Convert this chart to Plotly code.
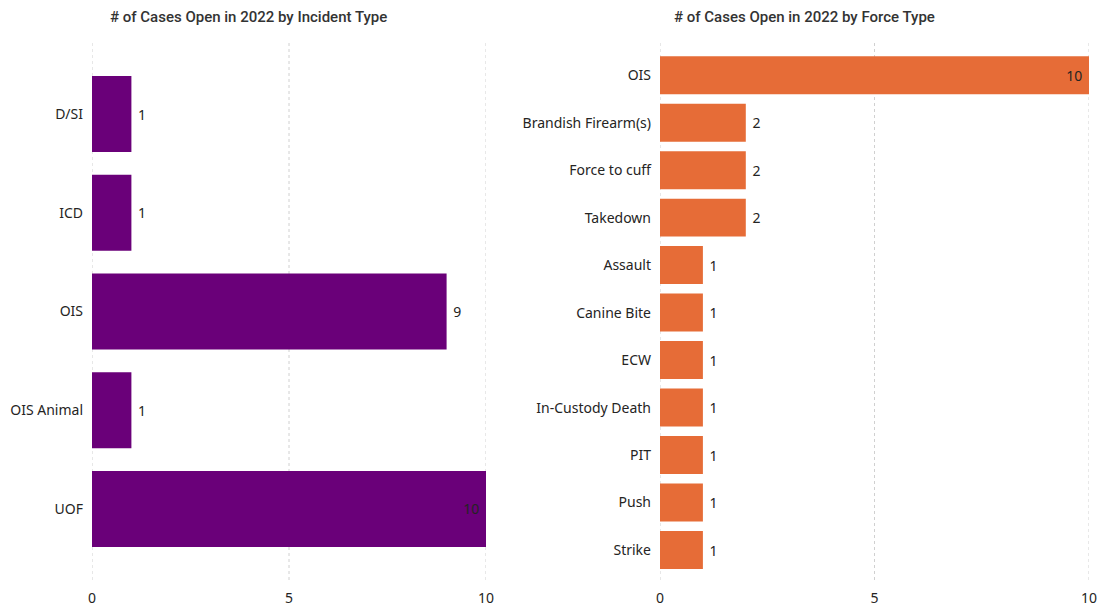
import plotly.graph_objects as go

incident_types = ["D/SI", "ICD", "OIS", "OIS Animal", "UOF"]
incident_counts = [1, 1, 9, 1, 10]

force_types = ["OIS", "Brandish Firearm(s)", "Force to cuff", "Takedown", "Assault",
               "Canine Bite", "ECW", "In-Custody Death", "PIT", "Push", "Strike"]
force_counts = [10, 2, 2, 2, 1, 1, 1, 1, 1, 1, 1]

x_ticks = [0, 5, 10]

title_left = "# of Cases Open in 2022 by Incident Type"
title_right = "# of Cases Open in 2022 by Force Type"

PURPLE = "#6A0079"
ORANGE = "#E66C37"
TICK_FONT = dict(family="Noto Sans", size=14, color="#252423")
LABEL_FONT = dict(family="Noto Sans", size=14, color="#252423")
NB = "\u00a0"


def positions(vals, vmax):
    return ["inside" if v >= vmax else "outside" for v in vals]


def labels(vals, vmax):
    return [f"{v}{NB}" if v >= vmax else f"{NB}{v}" for v in vals]


fig = go.Figure()
fig.add_trace(go.Bar(
    y=incident_types, x=incident_counts, orientation="h",
    marker=dict(color=PURPLE, line=dict(width=0)),
    width=0.77,
    text=labels(incident_counts, 10),
    textposition=positions(incident_counts, 10),
    insidetextanchor="end", textangle=0,
    textfont=LABEL_FONT, insidetextfont=LABEL_FONT, outsidetextfont=LABEL_FONT,
    cliponaxis=False,
    xaxis="x", yaxis="y", showlegend=False,
))
fig.add_trace(go.Bar(
    y=force_types, x=force_counts, orientation="h",
    marker=dict(color=ORANGE, line=dict(width=0)),
    width=0.8,
    text=labels(force_counts, 10),
    textposition=positions(force_counts, 10),
    insidetextanchor="end", textangle=0,
    textfont=LABEL_FONT, insidetextfont=LABEL_FONT, outsidetextfont=LABEL_FONT,
    cliponaxis=False,
    xaxis="x2", yaxis="y2", showlegend=False,
))

W, H = 1101, 611
ybot = 1 - 580 / H
ytop = 1 - 40 / H

xcommon = dict(range=[0, 10], tickvals=x_ticks, showgrid=False, zeroline=False,
               showline=False, ticks="", tickfont=TICK_FONT, automargin=False,
               fixedrange=True, ticklabelstandoff=8)
ycommon = dict(type="category", showgrid=False, zeroline=False,
               showline=False, ticks="", tickfont=TICK_FONT, automargin=False,
               fixedrange=True, ticklabelstandoff=8)

shapes = []
for xr in ("x", "x2"):
    for t in x_ticks:
        shapes.append(dict(type="line", xref=xr, yref="paper", x0=t, x1=t,
                           y0=ybot, y1=ytop, layer="below",
                           line=dict(color="#D0D0D0", width=1, dash="dot")))

fig.update_layout(
    width=W, height=H,
    margin=dict(l=0, r=0, t=0, b=0),
    paper_bgcolor="white", plot_bgcolor="white",
    xaxis=dict(domain=[92 / W, 486 / W], anchor="y", **xcommon),
    xaxis2=dict(domain=[660 / W, 1089 / W], anchor="y2", **xcommon),
    yaxis=dict(domain=[ybot, ytop], anchor="x", range=[4.72, -0.75], **ycommon),
    yaxis2=dict(domain=[ybot, ytop], anchor="x2", range=[10.63, -0.74], **ycommon),
    shapes=shapes,
    annotations=[
        dict(text=title_left, x=108 / W, y=1 - 17 / H, xref="paper", yref="paper",
             xanchor="left", yanchor="middle", showarrow=False,
             font=dict(family="Roboto", size=15, color="#333333", weight=500)),
        dict(text=title_right, x=672 / W, y=1 - 17 / H, xref="paper", yref="paper",
             xanchor="left", yanchor="middle", showarrow=False,
             font=dict(family="Roboto", size=15, color="#333333", weight=500)),
    ],
)

fig.write_html("out.html")
